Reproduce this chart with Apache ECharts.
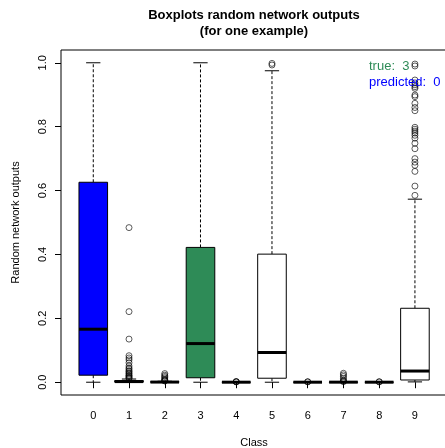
<!DOCTYPE html>
<html>
<head>
<meta charset="utf-8">
<script src="https://cdn.jsdelivr.net/npm/echarts@6/dist/echarts.min.js"></script>
<style>
  html, body { margin: 0; padding: 0; background: #fff; }
  #myChart { width: 445px; height: 448px; }
</style>
</head>
<body>
<div id="myChart"></div>
<script>
// classes shown on the x axis
var classes = ["0", "1", "2", "3", "4", "5", "6", "7", "8", "9"];
// box statistics per class
var lowerWhisker = [0.0, 0.0, 0.0, 0.0, 0.0, 0.0, 0.0, 0.0, 0.0, 0.001];
var q1 = [0.022, 0.0005, 0.0001, 0.014, 0.0, 0.0125, 0.0, 0.0, 0.0, 0.007];
var median = [0.166, 0.002, 0.0005, 0.121, 0.0001, 0.093, 0.0001, 0.0002, 0.0001, 0.035];
var q3 = [0.626, 0.005, 0.0015, 0.422, 0.0003, 0.401, 0.0002, 0.0005, 0.0002, 0.2315];
var upperWhisker = [1.0, 0.010, 0.003, 1.0, 0.0007, 0.975, 0.0005, 0.001, 0.0005, 0.573];
var boxColors = ["#0000FF", "#FFFFFF", "#FFFFFF", "#2E8B57", "#FFFFFF", "#FFFFFF", "#FFFFFF", "#FFFFFF", "#FFFFFF", "#FFFFFF"];
// outliers per class
var outliers = [
  [],
  [0.484, 0.221, 0.135, 0.083, 0.076, 0.070, 0.061, 0.051, 0.045, 0.041, 0.036, 0.033, 0.029, 0.026, 0.022, 0.020, 0.017, 0.014, 0.012],
  [0.027, 0.022, 0.018, 0.014, 0.010, 0.007, 0.005, 0.004],
  [],
  [0.002, 0.0015, 0.001],
  [0.998, 0.993],
  [0.0015, 0.001],
  [0.028, 0.023, 0.018, 0.012, 0.006, 0.003, 0.002],
  [0.0015, 0.001],
  [0.996, 0.990, 0.946, 0.937, 0.931, 0.925, 0.920, 0.899, 0.894, 0.873, 0.860, 0.850,
   0.798, 0.792, 0.786, 0.780, 0.773, 0.764, 0.748, 0.731, 0.700, 0.689, 0.679, 0.660, 0.614, 0.585]
];
// y axis ticks
var yTicks = [0, 0.2, 0.4, 0.6, 0.8, 1.0];
var trueClass = 3;
var predictedClass = 0;

var font = "'Liberation Sans', Arial, Helvetica, sans-serif";

var boxData = [];
for (var i = 0; i < classes.length; i++) {
  boxData.push([i, lowerWhisker[i], q1[i], median[i], q3[i], upperWhisker[i]]);
}
var outlierData = [];
outliers.forEach(function (list, i) {
  list.forEach(function (v) { outlierData.push([i, v]); });
});

function renderBox(params, api) {
  var x = api.value(0);
  var pLw = api.coord([x, api.value(1)]);
  var pQ1 = api.coord([x, api.value(2)]);
  var pMed = api.coord([x, api.value(3)]);
  var pQ3 = api.coord([x, api.value(4)]);
  var pUw = api.coord([x, api.value(5)]);
  var band = api.size([1, 0])[0];
  var half = band * 0.4;
  var cap = half / 2;
  var cx = pMed[0];
  var lineStyle = { stroke: "#000", lineWidth: 1 };
  var dashStyle = { stroke: "#000", lineWidth: 1, lineDash: [3, 2] };
  return {
    type: "group",
    children: [
      { type: "line", shape: { x1: cx, y1: pQ3[1], x2: cx, y2: pUw[1] }, style: dashStyle },
      { type: "line", shape: { x1: cx, y1: pQ1[1], x2: cx, y2: pLw[1] }, style: dashStyle },
      { type: "line", shape: { x1: cx - cap, y1: pUw[1], x2: cx + cap, y2: pUw[1] }, style: lineStyle },
      { type: "line", shape: { x1: cx - cap, y1: pLw[1], x2: cx + cap, y2: pLw[1] }, style: lineStyle },
      {
        type: "rect",
        shape: { x: cx - half, y: pQ3[1], width: half * 2, height: pQ1[1] - pQ3[1] },
        style: { fill: boxColors[params.dataIndex], stroke: "#000", lineWidth: 1 }
      },
      { type: "line", shape: { x1: cx - half, y1: pMed[1], x2: cx + half, y2: pMed[1] }, style: { stroke: "#000", lineWidth: 3 } }
    ]
  };
}

var chart = echarts.init(document.getElementById("myChart"));
chart.setOption({
  animation: false,
  backgroundColor: "#fff",
  textStyle: { fontFamily: font },
  grid: [
    { left: 61, top: 50, width: 387, height: 345, outerBoundsMode: "none", containLabel: false,
      show: true, borderColor: "#000", borderWidth: 1, backgroundColor: "transparent" },
    { left: 75.4, top: 50, width: 357.4, height: 345, outerBoundsMode: "none", containLabel: false }
  ],
  xAxis: [
    { type: "value", gridIndex: 0, min: 0, max: 1, show: false },
    {
      type: "category",
      gridIndex: 1,
      data: classes,
      axisLine: { show: false },
      axisTick: { show: true, alignWithLabel: true, length: 6, lineStyle: { color: "#000" } },
      axisLabel: { color: "#000", fontSize: 11, margin: 15, fontFamily: font },
      splitLine: { show: false },
      name: "Class",
      nameLocation: "middle",
      nameGap: 42,
      nameTextStyle: { color: "#000", fontSize: 11, fontFamily: font }
    }
  ],
  yAxis: [
    {
      type: "value",
      gridIndex: 0,
      min: -0.04,
      max: 1.04,
      axisLine: { show: false },
      axisTick: { show: true, length: 6, customValues: yTicks, lineStyle: { color: "#000" } },
      axisLabel: {
        color: "#000", fontSize: 11, fontFamily: font, rotate: 90, margin: 13,
        customValues: yTicks,
        formatter: function (v) { return v.toFixed(1); }
      },
      splitLine: { show: false },
      name: "Random network outputs",
      nameLocation: "middle",
      nameRotate: 90,
      nameGap: 40,
      nameTextStyle: { color: "#000", fontSize: 11, fontFamily: font }
    },
    { type: "value", gridIndex: 1, min: -0.04, max: 1.04, show: false }
  ],
  graphic: [
    {
      type: "text", x: 254, y: 23,
      style: {
        text: "Boxplots random network outputs\n(for one example)",
        textAlign: "center", textVerticalAlign: "middle",
        font: "bold 13px " + font, lineHeight: 16, fill: "#000"
      }
    },
    {
      type: "text", x: 369, y: 66, z: 10,
      style: { text: "true:  " + trueClass, textVerticalAlign: "middle", font: "13px " + font, fill: "#2E8B57" }
    },
    {
      type: "text", x: 369, y: 82, z: 10,
      style: { text: "predicted:  " + predictedClass, textVerticalAlign: "middle", font: "13px " + font, fill: "#0000FF" }
    }
  ],
  series: [
    {
      type: "custom",
      xAxisIndex: 1,
      yAxisIndex: 1,
      data: boxData,
      encode: { x: 0, y: [1, 2, 3, 4, 5] },
      renderItem: renderBox
    },
    {
      type: "scatter",
      xAxisIndex: 1,
      yAxisIndex: 1,
      data: outlierData,
      symbol: "circle",
      symbolSize: 6,
      itemStyle: { color: "transparent", borderColor: "#000", borderWidth: 0.8 }
    }
  ]
});
</script>
</body>
</html>
